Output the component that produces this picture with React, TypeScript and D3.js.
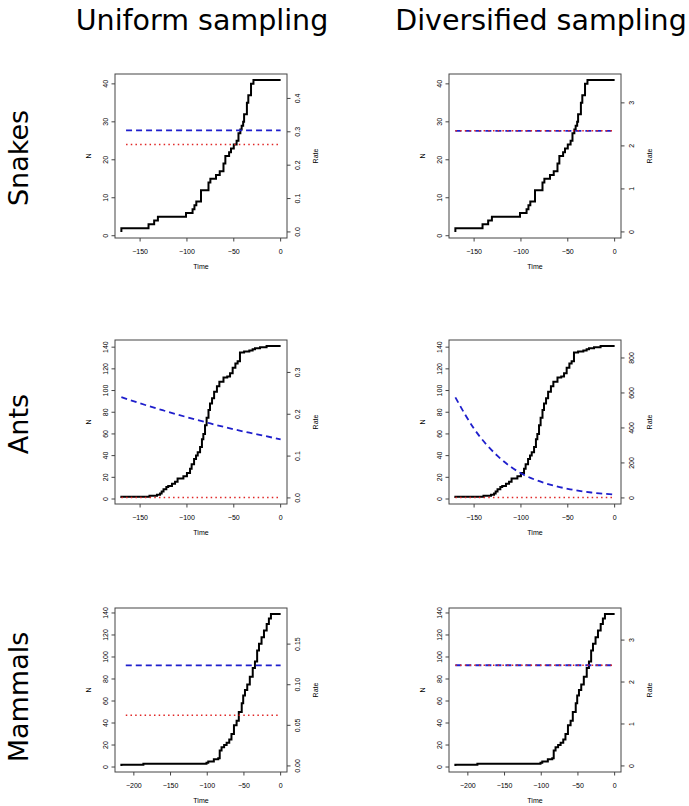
import * as d3 from "d3";

// lineage-through-time steps
const snakesTimes = [-170, -170, -141, -135, -131, -101, -94, -92, -90, -85, -77, -75, -69, -65, -61, -59, -55, -53, -50, -47, -45, -43, -41.6, -40, -39, -36, -34.5, -31.6, -29, 0];
const snakesN = [1, 2, 3, 4, 5, 6, 7, 8, 9, 12, 14, 15, 16, 17, 19, 21, 22, 23, 24, 25, 27, 28, 29, 30, 32, 35, 37, 40, 41, 41];

const antsTimes = [-170, -170, -140, -132, -128.7, -127, -125, -122, -120, -116, -112.7, -110, -103.8, -100, -96.7, -95, -92.4, -90.3, -88.5, -86, -84, -82.5, -80.7, -79, -77, -75.4, -73.2, -71, -68, -65.4, -61, -57, -54, -51.2, -48.3, -45.9, -43.4, -39, -33.4, -29.9, -27.4, -22, -15, 0];
const antsN = [1, 2, 3, 4, 5, 7, 9, 11, 12, 14, 16, 19, 21, 24, 28, 32, 37, 40, 43, 48, 55, 60, 68, 75, 82, 88, 93, 99, 104, 108, 112, 113, 116, 121, 125, 127, 135, 136, 137, 138, 139, 140, 141, 141];

const mammalsTimes = [-217, -217, -187, -101, -98.6, -91, -85, -83, -80.5, -77, -73.6, -70, -67, -63.6, -60, -57, -53, -51, -48.6, -45.5, -42, -38, -35, -32, -29.5, -26, -22.7, -19, -16, -13.2, 0];
const mammalsN = [1, 2, 3, 4, 5, 7, 8, 15, 18, 20, 22, 25, 30, 38, 42, 50, 58, 65, 70, 75, 82, 90, 96, 106, 112, 118, 124, 130, 135, 139, 139];

// rate curves (blue = speciation, red = extinction)
const snakesUniTimes = [-165, 0];
const snakesUniLambda = [0.304, 0.304];
const snakesUniMu = [0.262, 0.262];
const snakesDivTimes = [-170, 0];
const snakesDivLambda = [2.35, 2.35];
const snakesDivMu = [2.35, 2.35];

const antsRateTimes = [-170, -150, -125, -100, -75, -50, -25, 0];
const antsUniLambda = [0.241, 0.226, 0.209, 0.193, 0.178, 0.164, 0.152, 0.14];
const antsUniMu = [0.001, 0.001, 0.001, 0.001, 0.001, 0.001, 0.001, 0.001];
const antsDivLambda = [575, 395, 240, 141, 86, 52, 31, 19];
const antsDivMu = [3, 3, 3, 3, 3, 3, 3, 3];

const mammalsUniTimes = [-211, 0];
const mammalsUniLambda = [0.1238, 0.1238];
const mammalsUniMu = [0.0625, 0.0625];
const mammalsDivTimes = [-217, 0];
const mammalsDivLambda = [2.4, 2.4];
const mammalsDivMu = [2.4, 2.4];

const colTitles = ["Uniform sampling", "Diversified sampling"];
const rowTitles = ["Snakes", "Ants", "Mammals"];

const nTicksSmall = [0, 10, 20, 30, 40];
const nTicksLarge = [0, 20, 40, 60, 80, 100, 120, 140];
const xTicksShort = [-150, -100, -50, 0];
const xTicksLong = [-200, -150, -100, -50, 0];

type Panel = {
  row: number; col: number;
  times: number[]; n: number[];
  rTimes: number[]; lambda: number[]; mu: number[];
  rateMax: number; rateTicks: number[]; rateFmt: string;
  nTicks: number[]; xTicks: number[];
};

const panels: Panel[] = [
  { row: 0, col: 0, times: snakesTimes, n: snakesN, rTimes: snakesUniTimes, lambda: snakesUniLambda, mu: snakesUniMu, rateMax: 0.455, rateTicks: [0, 0.1, 0.2, 0.3, 0.4], rateFmt: ".1f", nTicks: nTicksSmall, xTicks: xTicksShort },
  { row: 0, col: 1, times: snakesTimes, n: snakesN, rTimes: snakesDivTimes, lambda: snakesDivLambda, mu: snakesDivMu, rateMax: 3.53, rateTicks: [0, 1, 2, 3], rateFmt: "d", nTicks: nTicksSmall, xTicks: xTicksShort },
  { row: 1, col: 0, times: antsTimes, n: antsN, rTimes: antsRateTimes, lambda: antsUniLambda, mu: antsUniMu, rateMax: 0.363, rateTicks: [0, 0.1, 0.2, 0.3], rateFmt: ".1f", nTicks: nTicksLarge, xTicks: xTicksShort },
  { row: 1, col: 1, times: antsTimes, n: antsN, rTimes: antsRateTimes, lambda: antsDivLambda, mu: antsDivMu, rateMax: 868, rateTicks: [0, 200, 400, 600, 800], rateFmt: "d", nTicks: nTicksLarge, xTicks: xTicksShort },
  { row: 2, col: 0, times: mammalsTimes, n: mammalsN, rTimes: mammalsUniTimes, lambda: mammalsUniLambda, mu: mammalsUniMu, rateMax: 0.187, rateTicks: [0, 0.05, 0.1, 0.15], rateFmt: ".2f", nTicks: nTicksLarge, xTicks: xTicksLong },
  { row: 2, col: 1, times: mammalsTimes, n: mammalsN, rTimes: mammalsDivTimes, lambda: mammalsDivLambda, mu: mammalsDivMu, rateMax: 3.62, rateTicks: [0, 1, 2, 3], rateFmt: "d", nTicks: nTicksLarge, xTicks: xTicksLong },
];

const colLeft = [115, 449];
const rowTop = [74, 340, 608];
const boxW = 172;
const boxH = 164;
const colCenter = [202, 541];
const rowCenter = [158, 424, 697];

const axisColor = "#444";
const tickFont = "'Liberation Sans', Arial, sans-serif";
const titleFont = "'DejaVu Sans', sans-serif";

// R-style 4% padding
const pad = (a: number, b: number): [number, number] => [a - 0.04 * (b - a), b + 0.04 * (b - a)];

function PanelPlot({ p }: { p: Panel }) {
  const x0 = colLeft[p.col];
  const y0 = rowTop[p.row];
  const x = d3.scaleLinear().domain(pad(d3.min(p.times)!, 0)).range([x0, x0 + boxW]);
  const yN = d3.scaleLinear().domain(pad(d3.min(p.n)!, d3.max(p.n)!)).range([y0 + boxH, y0]);
  const yR = d3.scaleLinear().domain(pad(0, p.rateMax)).range([y0 + boxH, y0]);
  const fmtR = d3.format(p.rateFmt);

  const ltt = d3.line<number>().x((_, i) => x(p.times[i])).y((d) => yN(d)).curve(d3.curveStepAfter);
  const rate = d3.line<number>().x((_, i) => x(p.rTimes[i])).y((d) => yR(d)).curve(d3.curveMonotoneX);

  const yMid = y0 + boxH / 2;
  const xMid = x0 + boxW / 2;
  return (
    <g fill="#000">
      <rect x={x0} y={y0} width={boxW} height={boxH} fill="none" stroke={axisColor} strokeWidth={1} />
      {p.xTicks.map((t) => (
        <g key={"x" + t}>
          <line x1={x(t)} x2={x(t)} y1={y0 + boxH} y2={y0 + boxH + 3.5} stroke={axisColor} />
          <text x={x(t)} y={y0 + boxH + 13} fontSize={7} fontFamily={tickFont} textAnchor="middle" dominantBaseline="central">{d3.format("d")(t)}</text>
        </g>
      ))}
      {p.nTicks.map((t) => (
        <g key={"n" + t}>
          <line x1={x0} x2={x0 - 3.5} y1={yN(t)} y2={yN(t)} stroke={axisColor} />
          <text transform={`translate(${x0 - 10},${yN(t)}) rotate(-90)`} fontSize={7} fontFamily={tickFont} textAnchor="middle" dominantBaseline="central">{t}</text>
        </g>
      ))}
      {p.rateTicks.map((t) => (
        <g key={"r" + t}>
          <line x1={x0 + boxW} x2={x0 + boxW + 3.5} y1={yR(t)} y2={yR(t)} stroke={axisColor} />
          <text transform={`translate(${x0 + boxW + 10},${yR(t)}) rotate(-90)`} fontSize={7} fontFamily={tickFont} textAnchor="middle" dominantBaseline="central">{fmtR(t)}</text>
        </g>
      ))}
      <text x={xMid} y={y0 + boxH + 28} fontSize={7} fontFamily={tickFont} textAnchor="middle" dominantBaseline="central">Time</text>
      <text transform={`translate(${x0 - 26.5},${yMid}) rotate(-90)`} fontSize={7} fontFamily={tickFont} textAnchor="middle" dominantBaseline="central">N</text>
      <text transform={`translate(${x0 + boxW + 28.5},${yMid}) rotate(-90)`} fontSize={7} fontFamily={tickFont} textAnchor="middle" dominantBaseline="central">Rate</text>

      <path d={ltt(p.n)!} fill="none" stroke="#000" strokeWidth={2} />
      <path d={rate(p.lambda)!} fill="none" stroke="#1f1fcc" strokeWidth={1.8} strokeDasharray="6 4" />
      <path d={rate(p.mu)!} fill="none" stroke="#e02626" strokeWidth={1.5} strokeDasharray="1.5 3.2" />
    </g>
  );
}

export default function App() {
  return (
    <svg width={689} height={806} style={{ position: "absolute", left: 0, top: 0, background: "#fff" }}>
      <rect width={689} height={806} fill="#fff" />
      {colTitles.map((t, i) => (
        <text key={t} x={colCenter[i]} y={30} fontSize={28.5} fontFamily={titleFont} textAnchor="middle" fill="#000">{t}</text>
      ))}
      {rowTitles.map((t, i) => (
        <text key={t} transform={`translate(28,${rowCenter[i]}) rotate(-90)`} fontSize={27} fontFamily={titleFont} textAnchor="middle" fill="#000">{t}</text>
      ))}
      {panels.map((p, i) => <PanelPlot key={i} p={p} />)}
    </svg>
  );
}
